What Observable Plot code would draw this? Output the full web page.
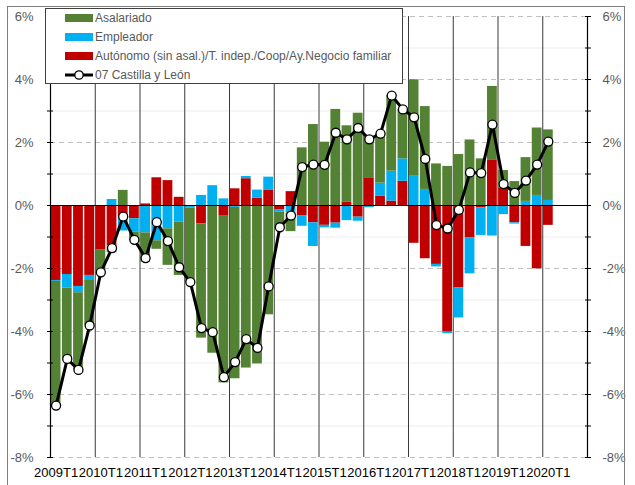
<!DOCTYPE html>
<html><head><meta charset="utf-8">
<script src="https://cdn.jsdelivr.net/npm/d3@7"></script>
<script src="https://cdn.jsdelivr.net/npm/@observablehq/plot@0.6"></script>
<style>
body{margin:0;background:#fff;font-family:"Liberation Sans",Arial,sans-serif;}
#wrap{position:relative;width:635px;height:485px;overflow:hidden}
#frame{position:absolute;left:7px;top:6px;width:618px;height:495px;border:1px solid #7f7f7f;box-sizing:border-box;pointer-events:none}
#legend{position:absolute;left:45px;top:8px;width:358px;height:76px;border:1px solid #404040;background:#fff;box-sizing:border-box;font-size:12px;color:#595959}
.item{position:absolute;left:19px;height:19px;display:flex;align-items:center;white-space:nowrap}
.sw{width:28px;height:8px;margin-right:2px;flex:none}
</style></head>
<body><div id="wrap"><div id="chart"></div><div id="legend"></div><div id="frame"></div></div>
<script>
const quarters = ["2009T1","2009T2","2009T3","2009T4","2010T1","2010T2","2010T3","2010T4",
"2011T1","2011T2","2011T3","2011T4","2012T1","2012T2","2012T3","2012T4",
"2013T1","2013T2","2013T3","2013T4","2014T1","2014T2","2014T3","2014T4",
"2015T1","2015T2","2015T3","2015T4","2016T1","2016T2","2016T3","2016T4",
"2017T1","2017T2","2017T3","2017T4","2018T1","2018T2","2018T3","2018T4",
"2019T1","2019T2","2019T3","2019T4","2020T1"];
const asalariado = [-3.94,-2.25,-2.45,-1.43,-0.72,-0.22,0.48,-0.28,-0.93,-0.27,-1.16,-1.69,-2.35,-3.63,-4.69,-5.29,-5.44,-5.16,-5.03,-3.47,-0.55,-0.60,1.83,2.57,2.01,3.05,2.43,2.93,1.29,1.57,2.40,1.57,3.04,2.63,1.32,1.24,1.62,2.08,1.48,2.33,0.55,0.76,1.39,2.14,2.24];
const empleador = [-0.03,-0.43,-0.20,-0.16,0,0.19,-0.44,-0.42,-0.87,-1.12,-0.74,-0.53,-0.08,0.32,0.63,0.21,-0.06,0.07,0.26,0.42,-0.08,-0.23,-0.34,-0.75,-0.08,-0.16,-0.48,-0.13,-0.07,0.41,0.95,0.71,0.95,0.51,-0.08,-0.05,-0.96,-1.14,-0.88,-0.97,-0.29,-0.04,0.13,0.32,0.16];
const autonomo = [-2.38,-2.19,-2.57,-2.22,-1.40,-1.28,-0.37,-0.42,0.05,0.88,0.79,0.26,0,-0.58,0,-0.34,0.53,0.85,0.23,0.48,-0.13,0.44,-0.32,-0.55,-0.63,-0.56,0.10,-0.37,0.88,0.30,0.14,0.77,-1.20,-1.69,-1.87,-4.02,-2.61,-1.03,-0.07,1.45,0.56,-0.55,-1.30,-2.01,-0.63];
const total = [-6.35,-4.87,-5.22,-3.81,-2.12,-1.35,-0.35,-1.09,-1.67,-0.53,-1.13,-1.96,-2.43,-3.89,-4.02,-5.45,-4.97,-4.24,-4.52,-2.57,-0.69,-0.32,1.22,1.30,1.29,2.31,2.10,2.46,2.10,2.28,3.49,3.05,2.80,1.48,-0.62,-0.73,-0.14,1.05,1.03,2.57,0.68,0.40,0.79,1.30,2.03];
const yearLabels = ["2009T1","2010T1","2011T1","2012T1","2013T1","2014T1","2015T1","2016T1","2017T1","2018T1","2019T1","2020T1"];
const yTicks = [-8,-7,-6,-5,-4,-3,-2,-1,0,1,2,3,4,5,6];
const nSlots = 48; // quarter slots 2009T1..2020T4

const seriesNames = ["Asalariado","Empleador","Autónomo (sin asal.)/T. indep./Coop/Ay.Negocio familiar"];
const lineName = "07 Castilla y León";
const seriesColors = {"Asalariado":"#548235","Empleador":"#00B0F0","Autónomo (sin asal.)/T. indep./Coop/Ay.Negocio familiar":"#C00000"};

// stacking order from zero outward: Autónomo, Empleador, Asalariado
const rows = [];
quarters.forEach((q, i) => {
  rows.push({i, q, series: seriesNames[2], value: autonomo[i]});
  rows.push({i, q, series: seriesNames[1], value: empleador[i]});
  rows.push({i, q, series: seriesNames[0], value: asalariado[i]});
});
const lineData = quarters.map((q, i) => ({x: i + 0.5, v: total[i]}));
const yearIdx = yearLabels.map(y => quarters.indexOf(y));
const boundaries = yearIdx.filter(i => i > 0);
const evenT = yTicks.filter(t => t % 2 === 0);
const oddT = yTicks.filter(t => t % 2 !== 0);
const fmt = d => (d % 2 === 0 ? d + "%" : "");

const chart = Plot.plot({
  width: 635, height: 485,
  marginLeft: 50, marginRight: 48, marginTop: 16, marginBottom: 28,
  x: {domain: [0, nSlots], axis: null},
  y: {domain: [-8, 6], axis: null},
  color: {domain: Object.keys(seriesColors), range: Object.values(seriesColors)},
  style: {fontFamily: "'Liberation Sans', Arial, sans-serif", fontSize: "13px", background: "white", overflow: "visible"},
  marks: [
    Plot.ruleY(oddT, {stroke: "#ededed", strokeWidth: 1}),
    Plot.ruleY(evenT, {stroke: "#bfbfbf", strokeDasharray: "5,4", strokeWidth: 1}),
    Plot.ruleX(boundaries, {stroke: "#3a3a3a", strokeWidth: 1}),
    Plot.rectY(rows, {x1: "i", x2: d => d.i + 1, y: "value", fill: "series", insetLeft: 0.7, insetRight: 0.7}),
    Plot.ruleY([0], {stroke: "black", strokeWidth: 1}),
    Plot.ruleX([0, nSlots], {stroke: "black", strokeWidth: 1.2}),
    Plot.line(lineData, {x: "x", y: "v", stroke: "black", strokeWidth: 3}),
    Plot.dot(lineData, {x: "x", y: "v", r: 4.5, fill: "white", stroke: "black", strokeWidth: 1.3}),
    Plot.axisY({anchor: "left", ticks: yTicks, tickFormat: fmt, tickSize: 6, dx: 3, tickPadding: 14, stroke: "black", fill: "#595959", fontSize: 13}),
    Plot.axisY({anchor: "right", ticks: yTicks, tickFormat: fmt, tickSize: 6, dx: -3, tickPadding: 12, stroke: "black", fill: "#595959", fontSize: 13}),
    Plot.axisX({ticks: yearIdx.map(i => i + 0.5), tickFormat: (d, k) => yearLabels[k], tickSize: 0, tickPadding: 10, fill: "black", fontSize: 13})
  ]
});
document.getElementById("chart").appendChild(chart);

// legend
const leg = document.getElementById("legend");
const tops = [-1, 18, 37, 56];
seriesNames.forEach((name, k) => {
  const it = document.createElement("div");
  it.className = "item"; it.style.top = tops[k] + "px";
  const sw = document.createElement("span");
  sw.className = "sw"; sw.style.background = seriesColors[name];
  it.appendChild(sw);
  it.appendChild(document.createTextNode(name));
  leg.appendChild(it);
});
const li = document.createElement("div");
li.className = "item"; li.style.top = tops[3] + "px";
li.innerHTML = '<svg width="28" height="12" style="margin-right:2px;flex:none"><line x1="0" y1="6" x2="28" y2="6" stroke="black" stroke-width="3"/><circle cx="14" cy="6" r="4.2" fill="white" stroke="black" stroke-width="1.3"/></svg>';
li.appendChild(document.createTextNode(lineName));
leg.appendChild(li);
</script>
</body></html>
